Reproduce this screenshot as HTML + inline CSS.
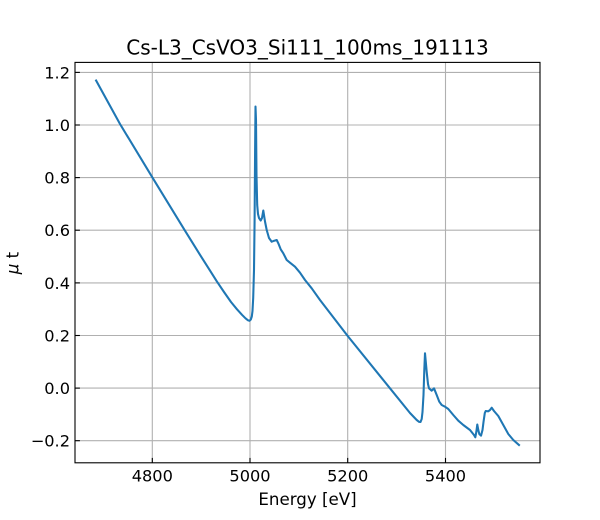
<!DOCTYPE html>
<html>
<head>
<meta charset="utf-8">
<style>
  html, body { margin: 0; padding: 0; background: #ffffff; }
  svg { display: block; }
  text { font-family: "DejaVu Sans", "Liberation Sans", sans-serif; fill: #000; }
</style>
</head>
<body>
<svg width="600" height="520" viewBox="0 0 600 520" xmlns="http://www.w3.org/2000/svg">
  <rect x="0" y="0" width="600" height="520" fill="#ffffff"/>
  <defs>
    <clipPath id="ax">
      <rect x="75" y="62.4" width="465" height="400.4"/>
    </clipPath>
  </defs>

  <!-- grid -->
  <g stroke="#b0b0b0" stroke-width="1.1" fill="none">
    <line x1="152.3" y1="62.4" x2="152.3" y2="462.8"/>
    <line x1="250.0" y1="62.4" x2="250.0" y2="462.8"/>
    <line x1="347.7" y1="62.4" x2="347.7" y2="462.8"/>
    <line x1="445.5" y1="62.4" x2="445.5" y2="462.8"/>
    <line x1="75" y1="72.4" x2="540" y2="72.4"/>
    <line x1="75" y1="125.0" x2="540" y2="125.0"/>
    <line x1="75" y1="177.6" x2="540" y2="177.6"/>
    <line x1="75" y1="230.2" x2="540" y2="230.2"/>
    <line x1="75" y1="282.9" x2="540" y2="282.9"/>
    <line x1="75" y1="335.5" x2="540" y2="335.5"/>
    <line x1="75" y1="388.1" x2="540" y2="388.1"/>
    <line x1="75" y1="440.7" x2="540" y2="440.7"/>
  </g>

  <!-- data line -->
  <path clip-path="url(#ax)" fill="none" stroke="#1f77b4" stroke-width="2.08" stroke-linejoin="round" stroke-linecap="square"
    d="M96.1,80.5 L120,124 L152.3,177.3 L185,230.7 L200,254.8 L210,270.6 L216.7,281.2 L224,292 L231,302 L237,309.3 L242,314.8 L245.5,318.3 L248,320.3 L249.5,320.8 L250.8,319.5 L251.8,316.5 L252.5,311 L253.2,298 L254,270 L254.6,220 L255.1,150 L255.5,106.5 L256,120 L256.5,175 L257.2,205 L258,214 L259,218 L260.7,220.5 L262,218 L263.3,210.5 L265,221.5 L266.7,230 L269,238 L271.7,241.7 L274.3,240.7 L276.7,240 L278.3,243.3 L280.7,249.3 L283.3,253.3 L286.7,260 L290,262.7 L295,266.7 L300,272.7 L305,280 L311.7,288.3 L320,300 L347.7,336 L390,388.3 L410,413 L416.7,420 L419,421.8 L420.5,422 L421.7,419 L422.5,412 L423.5,395 L424.3,370 L425,353.3 L425.8,362 L426.7,372 L428,384 L429,388.3 L431.7,390.7 L434,388.3 L436.7,395 L439.3,401.7 L441.7,405 L445,406.7 L448.3,409 L453.3,415 L458.3,420.7 L463.3,425 L470,430 L474,435 L475.3,437.3 L476.3,432 L477.3,424.5 L478.3,430 L479.3,434 L481,435.7 L482.5,430 L483.5,422 L484.8,413 L485.7,411 L488.3,411.3 L490,410 L491.7,407.7 L494,411 L498.3,416 L503.3,425 L508.3,434 L513.3,440 L519,445"/>

  <!-- ticks (inward) -->
  <g stroke="#000" stroke-width="1.1">
    <line x1="152.3" y1="462.8" x2="152.3" y2="457.9"/>
    <line x1="250.0" y1="462.8" x2="250.0" y2="457.9"/>
    <line x1="347.7" y1="462.8" x2="347.7" y2="457.9"/>
    <line x1="445.5" y1="462.8" x2="445.5" y2="457.9"/>
    <line x1="75" y1="72.4" x2="79.9" y2="72.4"/>
    <line x1="75" y1="125.0" x2="79.9" y2="125.0"/>
    <line x1="75" y1="177.6" x2="79.9" y2="177.6"/>
    <line x1="75" y1="230.2" x2="79.9" y2="230.2"/>
    <line x1="75" y1="282.9" x2="79.9" y2="282.9"/>
    <line x1="75" y1="335.5" x2="79.9" y2="335.5"/>
    <line x1="75" y1="388.1" x2="79.9" y2="388.1"/>
    <line x1="75" y1="440.7" x2="79.9" y2="440.7"/>
  </g>

  <!-- spines -->
  <rect x="75" y="62.4" width="465" height="400.4" fill="none" stroke="#000" stroke-width="1.1"/>

  <!-- x tick labels -->
  <g font-size="16.2" text-anchor="middle">
    <text x="152.3" y="481.6">4800</text>
    <text x="250.0" y="481.6">5000</text>
    <text x="347.7" y="481.6">5200</text>
    <text x="445.5" y="481.6">5400</text>
  </g>

  <!-- y tick labels -->
  <g font-size="16.2" text-anchor="end">
    <text x="70" y="78.4">1.2</text>
    <text x="70" y="131.0">1.0</text>
    <text x="70" y="183.6">0.8</text>
    <text x="70" y="236.2">0.6</text>
    <text x="70" y="288.9">0.4</text>
    <text x="70" y="341.5">0.2</text>
    <text x="70" y="394.1">0.0</text>
    <text x="70" y="446.7">−0.2</text>
  </g>

  <!-- axis labels -->
  <text x="307.5" y="505" font-size="16.67" text-anchor="middle">Energy [eV]</text>
  <text transform="translate(18.5,263) rotate(-90)" font-size="16.67" text-anchor="middle"><tspan font-style="italic">μ</tspan> t</text>

  <!-- title -->
  <text x="307.5" y="54.6" font-size="20" text-anchor="middle">Cs-L3_CsVO3_Si111_100ms_191113</text>
</svg>
</body>
</html>
